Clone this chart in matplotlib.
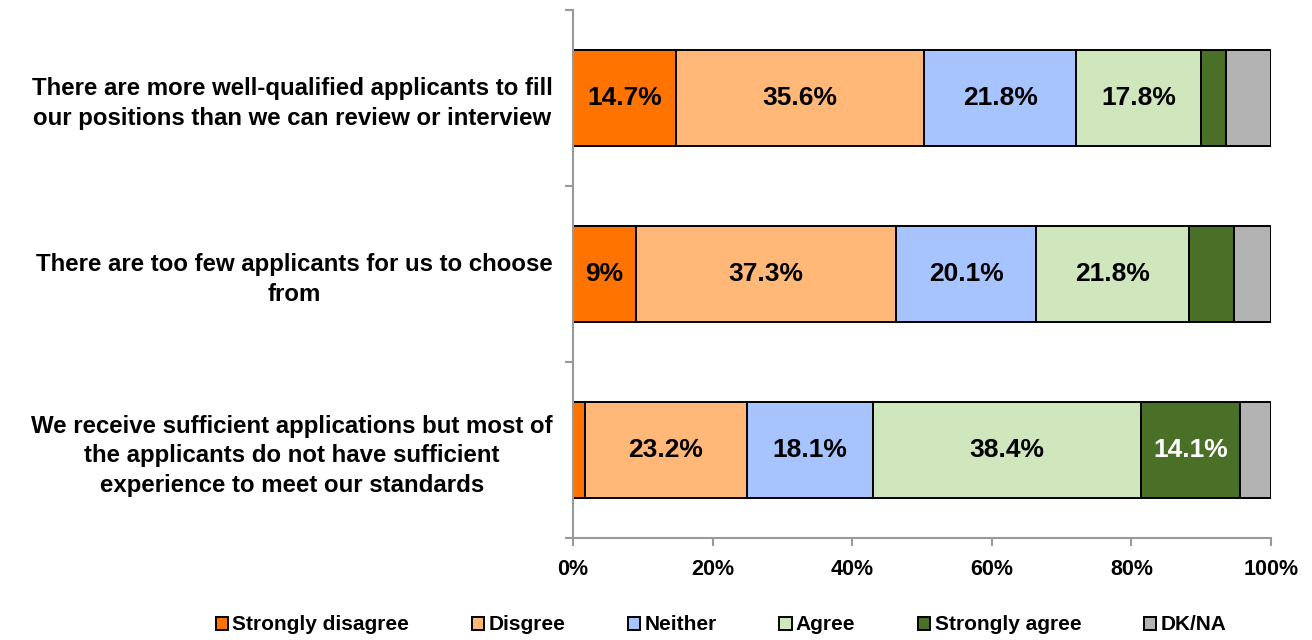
import numpy as np
import matplotlib.pyplot as plt

plt.rcParams['font.family'] = ['Liberation Sans', 'DejaVu Sans']
plt.rcParams['font.weight'] = 'bold'

# statements (top to bottom)
statements = [
    "There are more well-qualified applicants to fill\nour positions than we can review or interview",
    "There are too few applicants for us to choose\nfrom",
    "We receive sufficient applications but most of\nthe applicants do not have sufficient\nexperience to meet our standards",
]
responses = ["Strongly disagree", "Disgree", "Neither", "Agree", "Strongly agree", "DK/NA"]
colors = ["#FF7400", "#FFB877", "#A8C4FF", "#D0E6BD", "#4A7027", "#B3B3B3"]

# percent per response, one list per statement
strongly_disagree = [14.7, 9.0, 1.7]
disagree = [35.6, 37.3, 23.2]
neither = [21.8, 20.1, 18.1]
agree = [17.8, 21.8, 38.4]
strongly_agree = [3.6, 6.5, 14.1]
dk_na = [6.5, 5.3, 4.5]

series = [strongly_disagree, disagree, neither, agree, strongly_agree, dk_na]

fig = plt.figure(figsize=(13.12, 6.4), dpi=100)
ax = fig.add_axes([573/1312, 1-538/640, (1271-573)/1312, (538-10)/640])

y = np.arange(len(statements))
left = np.zeros(len(statements))
for vals, name, col in zip(series, responses, colors):
    vals = np.array(vals)
    bars = ax.barh(y, vals, left=left, height=0.55, color=col, edgecolor="black",
                   linewidth=1.4, label=name)
    txtcol = "white" if name == "Strongly agree" else "black"
    for b, v in zip(bars, vals):
        if v >= 8:
            lab = f"{v:g}%"
            ax.text(b.get_x() + b.get_width()/2, b.get_y() + b.get_height()/2, lab,
                    ha="center", va="center", fontsize=19, fontweight="bold", color=txtcol)
    left += vals

ax.set_xlim(0, 100)
ax.set_ylim(2.5, -0.5)
ax.set_xticks(np.arange(0, 101, 20))
ax.set_xticklabels([f"{t}%" for t in range(0, 101, 20)], fontsize=15.5, fontweight="bold")
ax.set_yticks(y)
ax.set_yticklabels(statements, fontsize=17.3, fontweight="bold", ha="right",
                   multialignment="center", linespacing=1.38)
ax.set_yticks([-0.5, 0.5, 1.5, 2.5], minor=True)
ax.tick_params(axis="y", which="major", length=0, pad=14.5)
ax.tick_params(axis="y", which="minor", length=6, color="#999999", width=1.5)
ax.tick_params(axis="x", length=6, color="#999999", width=1.5, pad=9)
for s in ["top", "right"]:
    ax.spines[s].set_visible(False)
for s in ["left", "bottom"]:
    ax.spines[s].set_color("#999999")
    ax.spines[s].set_linewidth(1.5)

fig.legend(loc="center", bbox_to_anchor=(721/1312, 1-625/640), ncol=6, frameon=False,
           prop={"size": 15, "weight": "bold"}, handlelength=0.6, handleheight=0.6,
           handletextpad=0.2, columnspacing=3.0)

fig.savefig("out.png", dpi=100)
